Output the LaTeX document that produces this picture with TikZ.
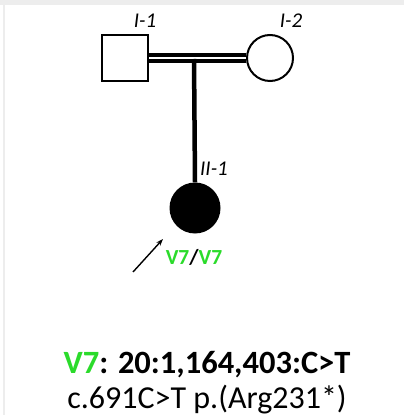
\documentclass[tikz,border=0pt]{standalone}
\usepackage{fontspec}
\setmainfont{Carlito}
\usepackage{tikz}
\usetikzlibrary{positioning,arrows.meta}
\definecolor{verde}{HTML}{2BDB2B}
\definecolor{borde}{HTML}{EDEDED}
\newcommand{\var}[1]{\textcolor{verde}{#1}}

\begin{document}
\begin{tikzpicture}[x=1pt, y=-1pt, >={Stealth[length=7pt,width=5pt]},
      ind/.style={draw, line width=2pt, minimum size=46pt, inner sep=0pt},
      etq/.style={font=\fontsize{21}{24}\selectfont\itshape, inner sep=0pt}]
    \useasboundingbox (0,0) rectangle (404,419);
    \fill[borde] (0,0) rectangle (404,5);
    \fill[borde] (3,5) rectangle (5,415);
    \node[ind, rectangle] (i1) at (125,58) {};
    \node[ind, circle] (i2) at (270,58) {};
    \node[circle, fill=black, minimum size=51pt, inner sep=0pt] (ii1) at (195,208) {};
    \node[etq] at (145,21) {I-1};
    \node[etq] at (291,21) {I-2};
    \node[etq] at (214,169) {II-1};
    % union consanguinea
    \draw[line width=3.3pt, double=white, double distance=2.6pt] (i1.east) -- (i2.west);
    \coordinate (nodo) at (194,59);
    \draw[line width=4.5pt] (nodo) -- (ii1.north);
    \coordinate (cola) at (133,272);
    \coordinate (punta) at (163,239);
    \draw[->, line width=1.4pt] (cola) -- (punta);
    \node[font=\fontsize{21.5}{24}\selectfont\bfseries, inner sep=0pt] (gen) at (194,257) {\var{V7}/\var{V7}};
    \node[font=\fontsize{32.5}{36}\selectfont\bfseries, inner sep=0pt] (v7) at (207,365) {\var{V7}: 20:1,164,403:C>T};
    \node[font=\fontsize{32}{36}\selectfont, inner sep=0pt, anchor=base] (hgvs) at (207,408) {c.691C>T p.(Arg231*)};
\end{tikzpicture}
\end{document}
